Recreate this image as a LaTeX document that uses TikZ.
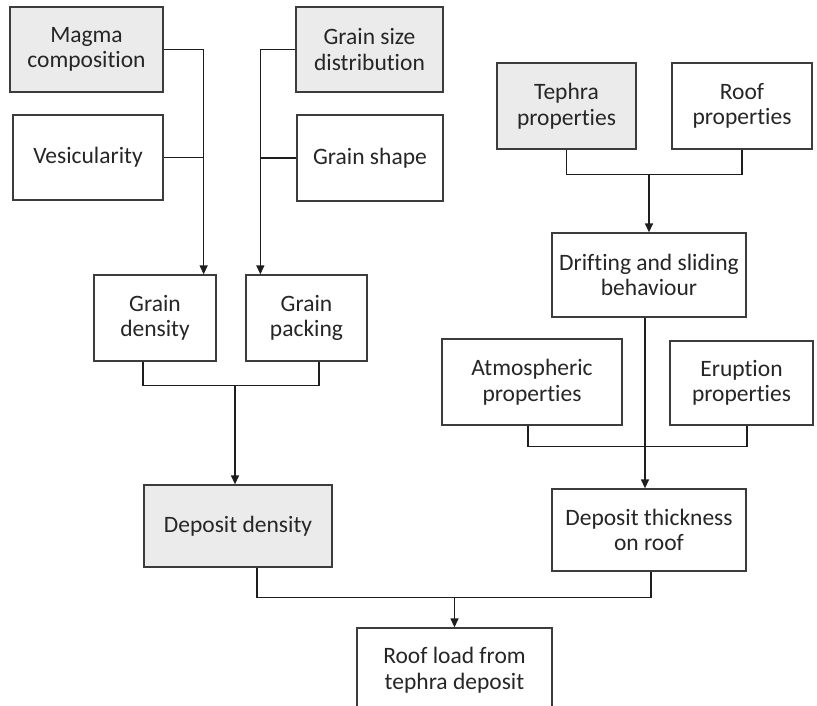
\documentclass[tikz,border=0pt]{standalone}
\usepackage{fontspec}
\setmainfont{Carlito}[Ligatures=NoCommon]
\usetikzlibrary{arrows.meta}
\definecolor{boxline}{HTML}{3C3C3C}
\definecolor{boxfill}{HTML}{EBEBEB}
\definecolor{txt}{HTML}{262626}
\definecolor{lnc}{HTML}{1E1E1E}
\tikzset{
  box/.style={draw=boxline, line width=1.3pt, fill=white, text=txt, align=center,
    inner sep=0pt, font=\fontsize{23.5}{25.5}\selectfont},
  gbox/.style={box, fill=boxfill},
  ln/.style={draw=lnc, line width=1.3pt},
  arr/.style={ln, -{Triangle[length=9pt,width=8pt]}},
}
\begin{document}
\begin{tikzpicture}[x=1pt,y=-1pt]
\useasboundingbox (0,0) rectangle (817,705);
\clip (0,0) rectangle (817,705);
\fill[white] (0,0) rectangle (817,705);

% boxes
\node[gbox, minimum width=153, minimum height=85] (mag) at (86.5,49.5) {Magma\\composition};
\node[box, minimum width=150, minimum height=85] (ves) at (88,157.5) {Vesicularity};
\node[gbox, minimum width=147, minimum height=85] (gsd) at (369.5,49.5) {Grain size\\distribution};
\node[box, minimum width=146, minimum height=86] (gsh) at (370,158) {Grain shape};
\node[gbox, minimum width=139, minimum height=86] (teph) at (566.5,106) {Tephra\\properties};
\node[box, minimum width=140, minimum height=86] (roof) at (742,106) {Roof\\properties};
\node[box, minimum width=194, minimum height=84] (drift) at (649,275) {Drifting and sliding\\behaviour};
\node[box, minimum width=122, minimum height=86] (gden) at (155,318) {Grain\\density};
\node[box, minimum width=121, minimum height=86] (gpack) at (306.5,318) {Grain\\packing};
\node[box, minimum width=180, minimum height=86] (atm) at (532,382) {Atmospheric\\properties};
\node[box, minimum width=143, minimum height=84] (erup) at (741.5,383) {Eruption\\properties};
\node[gbox, minimum width=188, minimum height=82] (dden) at (238,526) {Deposit density};
\node[box, minimum width=194, minimum height=82] (dthick) at (649,530) {Deposit thickness\\on roof};
\node[box, minimum width=195, minimum height=84] (load) at (454.5,670) {Roof load from\\tephra deposit};

% left column inputs
\coordinate (a1) at ([xshift=-13pt]gden.north east);
\draw[arr] (mag.east) -| (a1);
\draw[ln] (ves.east) -- (ves.east -| a1);

\coordinate (a2) at ([xshift=15pt]gpack.north west);
\draw[arr] (gsd.west) -| (a2);
\draw[ln] (gsh.west) -- (gsh.west -| a2);

% grain density + packing -> deposit density
\coordinate (m1) at ([yshift=-24pt]gden.south);
\draw[ln] ([xshift=-12pt]gden.south) |- ([xshift=12.5pt,yshift=-24pt]gpack.south) -- ([xshift=12.5pt]gpack.south);
\draw[arr] ([xshift=-3pt]dden.north |- m1) -- ([xshift=-3pt]dden.north);

% tephra + roof -> drifting
\coordinate (m2) at ([yshift=-25pt]teph.south);
\draw[ln] (teph.south) |- ([yshift=-25pt]roof.south) -- (roof.south);
\draw[arr] (drift.north |- m2) -- (drift.north);

% drifting -> thickness
\draw[arr] ([xshift=-4pt]drift.south) -- ([xshift=-4pt]dthick.north);

% atmospheric + eruption bracket
\draw[ln] ([xshift=-4pt]atm.south) |- ([xshift=5.5pt,yshift=-21pt]erup.south) -- ([xshift=5.5pt]erup.south);

% density + thickness -> roof load
\coordinate (m4) at ([yshift=-26pt]dthick.south);
\draw[ln] ([xshift=19pt]dden.south) |- ([xshift=2pt,yshift=-26pt]dthick.south) -- ([xshift=2pt]dthick.south);
\draw[arr] (load.north |- m4) -- (load.north);
\end{tikzpicture}
\end{document}
